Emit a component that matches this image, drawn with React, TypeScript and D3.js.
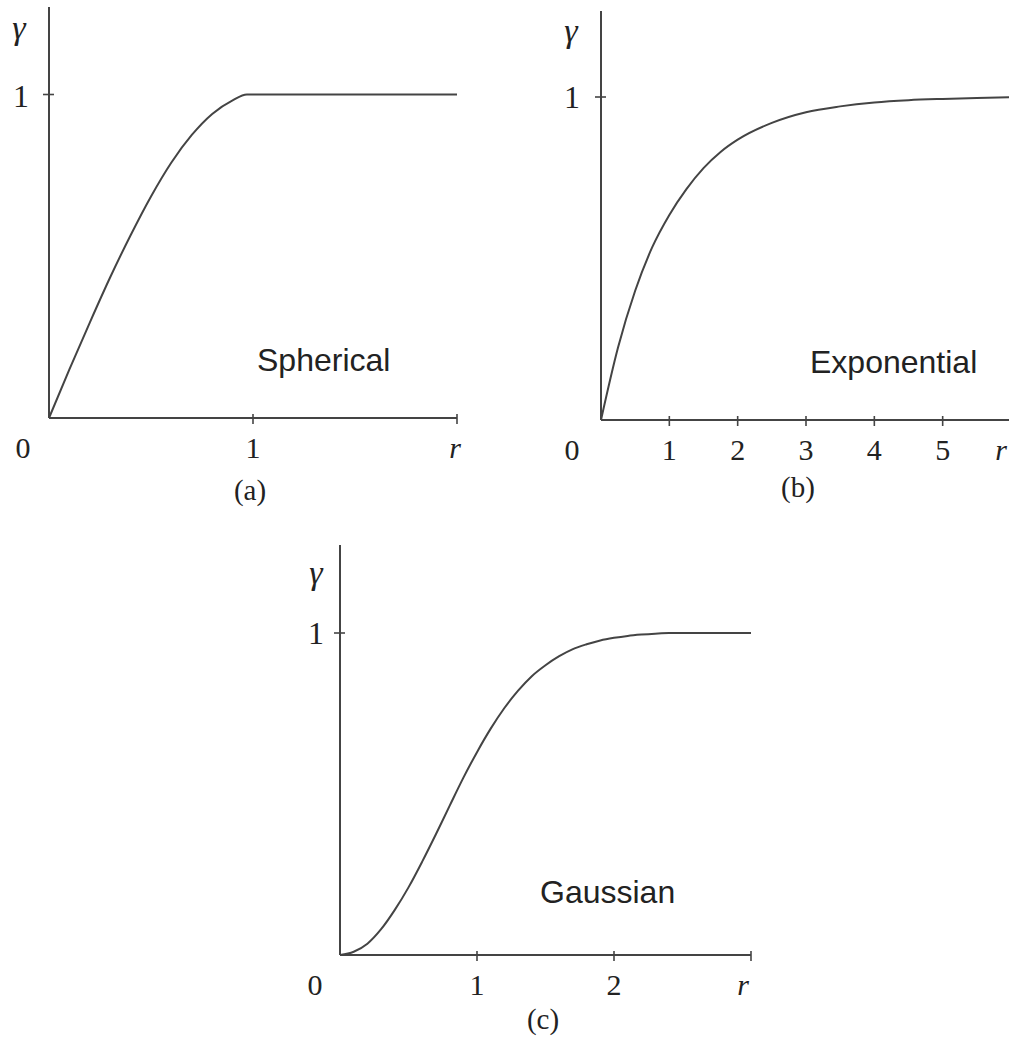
import React from "react";
import * as d3 from "d3";

// Variogram models: lag distance r and semivariance gamma
const sphericalR = [0, 0.1, 0.2, 0.3, 0.4, 0.5, 0.6, 0.7, 0.8, 0.9, 0.97, 2.0];
const sphericalGamma = [0, 0.15, 0.295, 0.435, 0.565, 0.685, 0.79, 0.875, 0.94, 0.982, 1.0, 1.0];

const exponentialR = [0, 0.25, 0.5, 0.75, 1, 1.25, 1.5, 1.75, 2, 2.5, 3, 3.5, 4, 4.5, 5, 5.5, 6];
const exponentialGamma = [0, 0.225, 0.4, 0.535, 0.635, 0.715, 0.78, 0.83, 0.868, 0.92, 0.953, 0.971, 0.983, 0.99, 0.994, 0.997, 0.999];

const gaussianR = [0, 0.1, 0.2, 0.3, 0.4, 0.5, 0.6, 0.7, 0.8, 0.9, 1.0, 1.1, 1.2, 1.3, 1.4, 1.5, 1.6, 1.7, 1.8, 1.9, 2.0, 2.1, 2.2, 2.3, 2.4, 3.0];
const gaussianGamma = [0, 0.01, 0.035, 0.08, 0.14, 0.21, 0.29, 0.375, 0.463, 0.55, 0.63, 0.703, 0.767, 0.821, 0.866, 0.9, 0.928, 0.95, 0.965, 0.977, 0.985, 0.991, 0.995, 0.998, 1.0, 1.0];

const sphericalTicks = [1, 2];
const exponentialTicks = [1, 2, 3, 4, 5];
const gaussianTicks = [1, 2, 3];

const modelNames = ["Spherical", "Exponential", "Gaussian"];
const captions = ["(a)", "(b)", "(c)"];

const INK = "#222";
const LINE = "#444";
const SERIF = "'Liberation Serif', 'DejaVu Serif', serif";
const SANS = "'Liberation Sans', Arial, sans-serif";

type PanelProps = {
  rs: number[];
  gammas: number[];
  ticks: number[];
  endTick: boolean;
  rMax: number;
  x0: number;
  x1: number;
  yBase: number;
  yOne: number;
  yTop: number;
  name: string;
  nameX: number;
  nameY: number;
  caption: string;
  captionX: number;
  captionY: number;
  rLabelX: number;
  zeroDx: number;
  oneDx: number;
  oneDy: number;
  gammaDx: number;
  gammaY: number;
};

function Panel(p: PanelProps) {
  const x = d3.scaleLinear().domain([0, p.rMax]).range([p.x0, p.x1]);
  const y = d3.scaleLinear().domain([0, 1]).range([p.yBase, p.yOne]);
  const pts: [number, number][] = p.rs.map((r, i) => [r, p.gammas[i]]);
  const line = d3
    .line<[number, number]>()
    .x((d) => x(d[0]))
    .y((d) => y(d[1]))
    .curve(d3.curveMonotoneX);
  const ax = x(0);
  const labelY = p.yBase + 40;
  return (
    <g>
      {/* axes */}
      <line x1={ax} y1={p.yTop} x2={ax} y2={p.yBase} stroke={LINE} strokeWidth={2} />
      <line x1={ax} y1={p.yBase} x2={p.x1} y2={p.yBase} stroke={LINE} strokeWidth={2} />
      {/* y tick at gamma = 1 */}
      <line x1={ax - 6} y1={y(1)} x2={ax + 5} y2={y(1)} stroke={LINE} strokeWidth={1.6} />
      {/* x ticks */}
      {p.ticks
        .filter((t) => t < p.rMax || p.endTick)
        .map((t) => (
          <line key={t} x1={x(t)} y1={p.yBase - 4} x2={x(t)} y2={p.yBase + 6} stroke={LINE} strokeWidth={1.6} />
        ))}
      {/* curve */}
      <path d={line(pts) || ""} fill="none" stroke={LINE} strokeWidth={2} />
      {/* labels */}
      <text x={ax + p.gammaDx} y={p.gammaY} fontFamily={SERIF} fontStyle="italic" fontSize={34} fill={INK} textAnchor="middle">
        γ
      </text>
      <text x={ax + p.oneDx} y={y(1) + p.oneDy} fontFamily={SERIF} fontSize={32} fill={INK} textAnchor="middle">
        1
      </text>
      <text x={ax + p.zeroDx} y={labelY} fontFamily={SERIF} fontSize={30} fill={INK} textAnchor="middle">
        0
      </text>
      {p.ticks
        .filter((t) => t < p.rMax)
        .map((t) => (
          <text key={t} x={x(t)} y={labelY} fontFamily={SERIF} fontSize={30} fill={INK} textAnchor="middle">
            {t}
          </text>
        ))}
      <text x={p.rLabelX} y={labelY} fontFamily={SERIF} fontStyle="italic" fontSize={30} fill={INK} textAnchor="middle">
        r
      </text>
      <text x={p.nameX} y={p.nameY} fontFamily={SANS} fontSize={32} fill={INK}>
        {p.name}
      </text>
      <text x={p.captionX} y={p.captionY} fontFamily={SERIF} fontSize={29} fill={INK} textAnchor="middle">
        {p.caption}
      </text>
    </g>
  );
}

export default function App() {
  return (
    <svg
      width={1009}
      height={1042}
      viewBox="0 0 1009 1042"
      style={{ position: "absolute", left: 0, top: 0, background: "#fff" }}
    >
      <rect width={1009} height={1042} fill="#fff" />
      <Panel
        rs={sphericalR}
        gammas={sphericalGamma}
        ticks={sphericalTicks}
        endTick={true}
        rMax={2}
        x0={49}
        x1={457}
        yBase={418}
        yOne={94.5}
        yTop={7}
        name={modelNames[0]}
        nameX={257}
        nameY={371}
        caption={captions[0]}
        captionX={250}
        captionY={500}
        rLabelX={455}
        zeroDx={-26}
        oneDx={-28}
        oneDy={12}
        gammaDx={-30}
        gammaY={39}
      />
      <Panel
        rs={exponentialR}
        gammas={exponentialGamma}
        ticks={exponentialTicks}
        endTick={false}
        rMax={6}
        x0={601}
        x1={1011}
        yBase={420}
        yOne={97}
        yTop={11}
        name={modelNames[1]}
        nameX={810}
        nameY={373}
        caption={captions[1]}
        captionX={798}
        captionY={497}
        rLabelX={1001}
        zeroDx={-29}
        oneDx={-29}
        oneDy={11}
        gammaDx={-30}
        gammaY={42}
      />
      <Panel
        rs={gaussianR}
        gammas={gaussianGamma}
        ticks={gaussianTicks}
        endTick={true}
        rMax={3}
        x0={340}
        x1={751}
        yBase={955}
        yOne={633}
        yTop={545}
        name={modelNames[2]}
        nameX={540}
        nameY={903}
        caption={captions[2]}
        captionX={543}
        captionY={1029}
        rLabelX={743}
        zeroDx={-25}
        oneDx={-24}
        oneDy={11}
        gammaDx={-24}
        gammaY={584}
      />
    </svg>
  );
}
